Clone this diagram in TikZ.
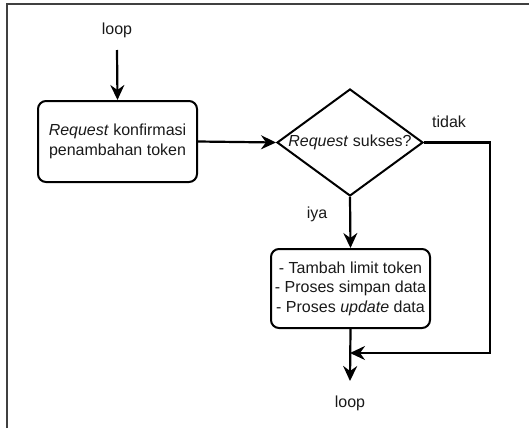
\documentclass[tikz,border=0pt]{standalone}
\usepackage{fontspec}
\setmainfont{Liberation Sans}
\usetikzlibrary{shapes.geometric,arrows.meta}
\begin{document}
\begin{tikzpicture}[x=1pt,y=-1pt,
  every node/.style={font=\fontsize{16}{19.5}\selectfont, text=black!90},
  procbox/.style={draw, line width=2pt, rounded corners=8pt, align=center,
    minimum width=159pt, inner sep=0pt},
  decision/.style={draw, line width=2pt, shape=diamond, aspect=1.36,
    minimum width=146pt, minimum height=107pt, inner sep=0pt},
  flow/.style={line width=2.2pt, -{Stealth[length=15pt,width=14pt,inset=5pt]}},
  plain/.style={line width=2.2pt},
  lbl/.style={inner sep=0pt}
]
% page limits and the clipped frame
\useasboundingbox (0,0) rectangle (529,428);
\draw[line width=1.5pt, black!75] (7,428) -- (7,4) -- (529,4);

% nodes
\node[lbl] (loopin) at (117,30) {loop};
\node[procbox, minimum height=81pt] (req) at (117.5,141.5)
  {\textit{Request} konfirmasi\\penambahan token};
\node[decision] (dec) at (350,142.5) {\textit{Request} sukses?};
\node[procbox, minimum height=79pt] (act) at (350.5,288.5)
  {- Tambah limit token\\- Proses simpan data\\- Proses \textit{update} data};
\node[lbl] (tidak) at (449,122) {tidak};
\node[lbl] (iya) at (317,214) {iya};
\node[lbl] (loopout) at (350,403) {loop};

% bend points of the connectors
\coordinate (start) at (117,50);
\coordinate (rt) at (490,142.5);
\coordinate (rb) at (490,353);
\coordinate (join) at (350,353);
\coordinate (out) at (350,381);

% connectors
\draw[flow] (start) -- (req.north);
\draw[flow] (req.east) -- (dec.west);
\draw[flow] (dec.south) -- (act.north);
\draw[flow] (dec.east) -- (rt) -- (rb) -- (join);
\draw[flow] (act.south) -- (out);
\end{tikzpicture}
\end{document}
